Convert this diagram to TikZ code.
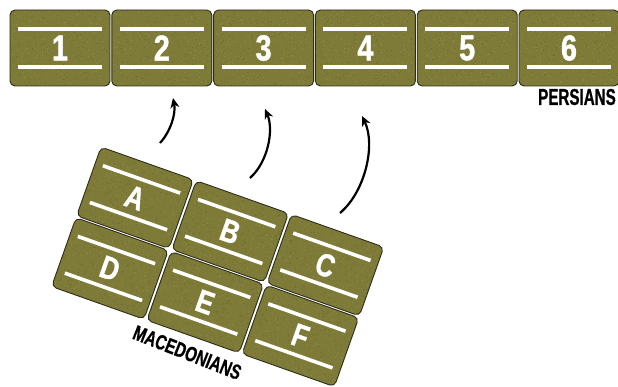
\documentclass[tikz,border=0pt]{standalone}
\usepackage{fontspec}
\setmainfont{Liberation Sans}
\newfontfamily\numfont[FakeStretch=0.8,FakeBold=1.2]{Liberation Sans}
\newfontfamily\persfont[FakeStretch=0.66,FakeBold=0.8]{Liberation Sans}
\newfontfamily\macfont[FakeBold=0.8]{Liberation Sans}
\usetikzlibrary{arrows.meta}
\definecolor{olivefill}{RGB}{126,123,56}
\definecolor{blkedge}{RGB}{45,45,28}
\definecolor{speckA}{RGB}{160,152,90}
\definecolor{speckB}{RGB}{92,90,40}
\tikzset{
  blk/.style={draw=blkedge, line width=0.9pt, rounded corners=5pt,
    inner sep=0pt, text=white, font=\numfont\bfseries\fontsize{36}{36}\selectfont},
  wline/.style={white, line width=3.6pt},
  mvarrow/.style={line width=2.2pt, -{Stealth[length=10pt,width=9pt]}, black},
  lbl/.style={text=black, inner sep=0pt}
}
\pgfmathsetseed{4242}
% name, x, y, w, h, text, line inset
\newcommand\unitblock[7]{%
  \fill[olivefill, rounded corners=5pt] (#2,#3) rectangle ++(#4,#5);
  \begin{scope}
    \clip[rounded corners=5pt] (#2,#3) rectangle ++(#4,#5);
    \foreach \k in {1,...,240}{%
      \fill[speckA, opacity=0.45] ({#2+rnd*#4},{#3+rnd*#5}) rectangle ++(0.9,0.9);
      \fill[speckB, opacity=0.45] ({#2+rnd*#4},{#3+rnd*#5}) rectangle ++(0.9,0.9);
    }
  \end{scope}
  \draw[wline] ({#2+8},{#3+#7}) -- ({#2+#4-8},{#3+#7});
  \draw[wline] ({#2+8},{#3+#5-#7}) -- ({#2+#4-8},{#3+#5-#7});
  \node[blk, minimum width=#4pt, minimum height=#5pt] (#1) at ({#2+#4/2},{#3+#5/2}) {#6};
}
\begin{document}
\begin{tikzpicture}[x=1pt,y=-1pt]
\useasboundingbox (0,0) rectangle (618,387);
\fill[white] (0,0) rectangle (618,387);
% Persian line
\unitblock{p1}{10}{10}{100}{76}{1}{19}
\unitblock{p2}{111.8}{10}{100}{76}{2}{19}
\unitblock{p3}{213.6}{10}{100}{76}{3}{19}
\unitblock{p4}{315.4}{10}{100}{76}{4}{19}
\unitblock{p5}{417.2}{10}{100}{76}{5}{19}
\unitblock{p6}{519}{10}{100}{76}{6}{19}
\node[lbl, anchor=east, font=\persfont\bfseries\fontsize{23}{23}\selectfont] (persians) at (616,97) {PERSIANS};
% Macedonian formation
\begin{scope}[shift={(101,147)}, rotate=-19.5, transform shape,
  blk/.append style={font=\numfont\bfseries\fontsize{32}{32}\selectfont}]
\unitblock{ma}{0}{0}{98}{73}{A}{17}
\unitblock{mb}{101}{0}{98}{73}{B}{17}
\unitblock{mc}{202}{0}{98}{73}{C}{17}
\unitblock{md}{0}{75}{98}{73}{D}{17}
\unitblock{me}{101}{75}{98}{73}{E}{17}
\unitblock{mf}{202}{75}{98}{73}{F}{17}
\node[lbl, font=\macfont\bfseries\fontsize{21}{21}\selectfont, rotate=-2] (maced) at (150,165) {\scalebox{0.72}[1]{MACEDONIANS}};
\end{scope}
% movement arrows
\coordinate (t1) at (160,143); \coordinate (h1) at (173,98);
\coordinate (t2) at (250,178); \coordinate (h2) at (265,109);
\coordinate (t3) at (340,213); \coordinate (h3) at (362,116);
\draw[mvarrow] (t1) .. controls (171,131) and (176,113) .. (h1);
\draw[mvarrow] (t2) .. controls (268,162) and (274,130) .. (h2);
\draw[mvarrow] (t3) .. controls (365,192) and (376,145) .. (h3);
\end{tikzpicture}
\end{document}
